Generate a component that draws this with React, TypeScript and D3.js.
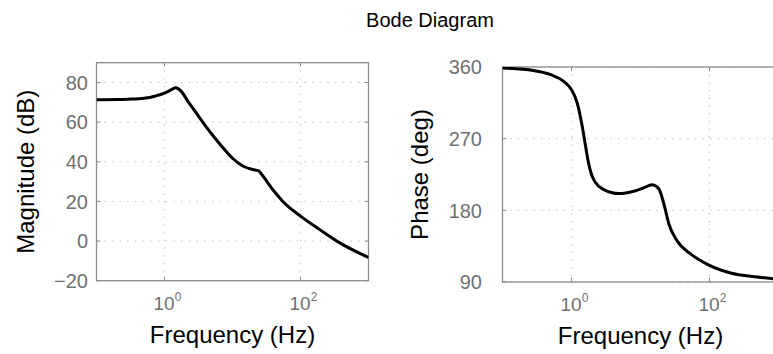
import React from "react";
import * as d3 from "d3";

const magFreq = [0.1, 0.2, 0.29, 0.5, 0.72, 1.0, 1.25, 1.45, 1.6, 1.78, 2.22, 2.79, 3.9, 5.5, 7.9, 10, 14.2, 19.9, 24, 28, 39, 55, 100, 190, 373, 1000];
const magDb = [71.3, 71.4, 71.6, 72.1, 73.1, 74.6, 76.3, 77.4, 76.8, 75.4, 70.4, 65.7, 58.6, 52, 45.6, 41.8, 37.9, 36.1, 35.5, 32.8, 26, 20, 12.6, 5.9, -0.8, -8.3];

const phFreq = [0.1, 0.28, 0.5, 0.77, 1.0, 1.21, 1.43, 1.6, 1.78, 1.95, 2.2, 2.94, 4.85, 8.0, 11.2, 14.7, 18.4, 21.8, 25.7, 33.5, 52.6, 100, 202, 491, 1000];
const phDeg = [358.7, 355.7, 350.3, 342, 331.5, 314.8, 285.5, 260.4, 238, 225, 215.5, 206, 201, 204, 208.4, 212.1, 207.1, 188.3, 163.2, 142.3, 125.6, 110.9, 101.3, 96.3, 93.5];

const magTicks = [-20, 0, 20, 40, 60, 80];
const phTicks = [90, 180, 270, 360];
const freqTicks = [1, 100];
const freqExp = ["0", "2"];

const title = "Bode Diagram";
const xLabel = "Frequency (Hz)";
const magLabel = "Magnitude (dB)";
const phLabel = "Phase (deg)";

const FONT = "'Liberation Sans', Arial, Helvetica, sans-serif";
const AXIS = "#8a8a8a";
const GRID = "#b5b5b5";
const TICKTXT = "#707070";

type PanelProps = {
  x0: number; x1: number; y0: number; y1: number;
  yDomain: [number, number];
  yTicks: number[];
  freqs: number[];
  vals: number[];
  ylabel: string;
  ylabelX: number;
  tickRight: number;
};

function Panel(p: PanelProps) {
  const x = d3.scaleLog().domain([0.1, 1000]).range([p.x0, p.x1]);
  const y = d3.scaleLinear().domain(p.yDomain).range([p.y1, p.y0]);
  const pts: [number, number][] = p.freqs.map((f, i) => [x(f), y(p.vals[i])]);
  const line = d3.line().curve(d3.curveMonotoneX)(pts) || "";
  const clipId = `clip-${Math.round(p.x0)}`;
  const cy = (p.y0 + p.y1) / 2;
  return (
    <g>
      <defs>
        <clipPath id={clipId}>
          <rect x={p.x0} y={p.y0} width={p.x1 - p.x0} height={p.y1 - p.y0} />
        </clipPath>
      </defs>
      <rect x={p.x0} y={p.y0} width={p.x1 - p.x0} height={p.y1 - p.y0} fill="#fff" />
      {p.yTicks.map((t) => (
        <line key={"gy" + t} x1={p.x0} x2={p.x1} y1={y(t)} y2={y(t)} stroke={GRID} strokeWidth={1} strokeDasharray="1.2,6.5" />
      ))}
      {freqTicks.map((t) => (
        <line key={"gx" + t} x1={x(t)} x2={x(t)} y1={p.y0} y2={p.y1} stroke={GRID} strokeWidth={1} strokeDasharray="1.2,6.5" />
      ))}
      {freqTicks.map((t) => (
        <g key={"tx" + t}>
          <line x1={x(t)} x2={x(t)} y1={p.y1} y2={p.y1 - 4} stroke={AXIS} />
          <line x1={x(t)} x2={x(t)} y1={p.y0} y2={p.y0 + 4} stroke={AXIS} />
        </g>
      ))}
      {p.yTicks.map((t) => (
        <g key={"ty" + t}>
          <line x1={p.x0} x2={p.x0 + 4} y1={y(t)} y2={y(t)} stroke={AXIS} />
          <line x1={p.x1} x2={p.x1 - 4} y1={y(t)} y2={y(t)} stroke={AXIS} />
        </g>
      ))}
      <rect x={p.x0} y={p.y0} width={p.x1 - p.x0} height={p.y1 - p.y0} fill="none" stroke={AXIS} strokeWidth={1.3} />
      <path d={line} fill="none" stroke="#000" strokeWidth={3} strokeLinejoin="round" clipPath={`url(#${clipId})`} />
      {p.yTicks.map((t) => (
        <text key={"yl" + t} x={p.tickRight} y={y(t)} dy="0.36em" textAnchor="end" fontSize={20} fill={TICKTXT} fontFamily={FONT}>
          {t < 0 ? "\u2212" + Math.abs(t) : String(t)}
        </text>
      ))}
      {freqTicks.map((t, i) => (
        <text key={"xl" + t} x={x(t) - 11} y={p.y1 + 29} fontSize={19} fill={TICKTXT} fontFamily={FONT}>
          10<tspan dy={-9} fontSize={12}>{freqExp[i]}</tspan>
        </text>
      ))}
      <text x={(x(0.1) + x(1000)) / 2} y={p.y1 + 62} textAnchor="middle" fontSize={24} fill="#000" fontFamily={FONT}>
        {xLabel}
      </text>
      <text transform={`translate(${p.ylabelX},${cy}) rotate(-90)`} textAnchor="middle" dy="0.35em" fontSize={24} fill="#000" fontFamily={FONT}>
        {p.ylabel}
      </text>
    </g>
  );
}

export default function App() {
  return (
    <svg width={773} height={354} style={{ position: "absolute", left: 0, top: 0, background: "#fff" }}>
      <rect width={773} height={354} fill="#fff" />
      <text x={430} y={27} textAnchor="middle" fontSize={20} fill="#000" fontFamily={FONT}>
        {title}
      </text>
      <Panel x0={96.5} x1={368.5} y0={62.7} y1={280.7} yDomain={[-20, 90]} yTicks={magTicks} freqs={magFreq} vals={magDb} ylabel={magLabel} ylabelX={26} tickRight={88} />
      <Panel x0={502.5} x1={778.5} y0={67} y1={282} yDomain={[90, 360]} yTicks={phTicks} freqs={phFreq} vals={phDeg} ylabel={phLabel} ylabelX={420} tickRight={482} />
    </svg>
  );
}
